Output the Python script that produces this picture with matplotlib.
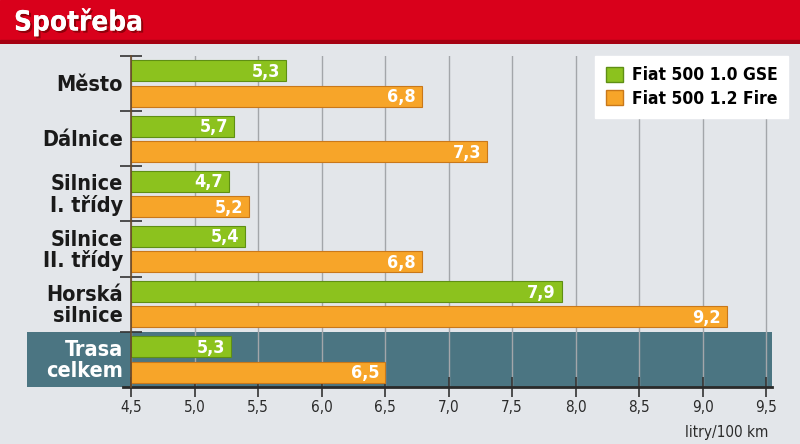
import matplotlib
matplotlib.use("Agg")
import matplotlib.pyplot as plt
from matplotlib.patches import Rectangle
import matplotlib.transforms as mtransforms
import matplotlib.patheffects as pe

categories = ["Město", "Dálnice", "Silnice\nI. třídy", "Silnice\nII. třídy", "Horská\nsilnice", "Trasa\ncelkem"]
# bar lengths as drawn in the reference picture
gse = [5.72, 5.31, 5.27, 5.40, 7.89, 5.29]
fire = [6.79, 7.30, 5.43, 6.79, 9.19, 6.50]
# value labels as printed in the reference picture
gse_labels = ["5,3", "5,7", "4,7", "5,4", "7,9", "5,3"]
fire_labels = ["6,8", "7,3", "5,2", "6,8", "9,2", "6,5"]
series_names = ["Fiat 500 1.0 GSE", "Fiat 500 1.2 Fire"]
xticks = [4.5, 5.0, 5.5, 6.0, 6.5, 7.0, 7.5, 8.0, 8.5, 9.0, 9.5]
xlabels = ["4,5", "5,0", "5,5", "6,0", "6,5", "7,0", "7,5", "8,0", "8,5", "9,0", "9,5"]

FONT = "DejaVu Sans"
STRETCH = "condensed"
GREEN = "#8cc21e"
GREEN_E = "#5f8f14"
ORANGE = "#f7a529"
ORANGE_E = "#c9781a"
BG = "#e3e6ea"
BAND = "#4b7582"

fig = plt.figure(figsize=(8, 4.44), dpi=100, facecolor=BG)

# header
hdr = fig.add_axes([0, 1 - 44 / 444, 1, 44 / 444])
hdr.set_xlim(0, 1); hdr.set_ylim(0, 1); hdr.axis("off")
hdr.add_patch(Rectangle((0, 0), 1, 1, color="#d9001b", transform=hdr.transAxes))
hdr.add_patch(Rectangle((0, 0), 1, 0.08, color="#a50012", transform=hdr.transAxes))
hdr.text(14 / 800, 0.50, "Spotřeba", color="white", fontsize=20, fontweight="bold",
         family=FONT, fontstretch=STRETCH, va="center", ha="left",
         path_effects=[pe.withSimplePatchShadow(offset=(1.5, -1.5), shadow_rgbFace="#600000", alpha=0.6), pe.Normal()])

left = 131 / 800
right = 772 / 800
bottom = 1 - 387 / 444
top = 1 - 56 / 444
ax = fig.add_axes([left, bottom, right - left, top - bottom])
ax.set_facecolor(BG)
xmax = 4.5 + (772 - 131) / 127.0
ax.set_xlim(4.5, xmax)
ax.set_ylim(len(categories), 0)

# highlight band for last category
trans = mtransforms.blended_transform_factory(ax.transAxes, ax.transData)
x0 = (27 - 131) / (772 - 131)
ax.add_patch(Rectangle((x0, len(categories) - 1), 1 - x0, 1, transform=trans,
                       facecolor=BAND, edgecolor="none", clip_on=False, zorder=0.5))

ax.set_axisbelow(True)
ax.xaxis.grid(True, color="#a3a6aa", linewidth=1.0, zorder=1)
ax.yaxis.grid(False)

ys = list(range(len(categories)))
h = 0.38
yg = [y + 0.27 for y in ys]
yo = [y + 0.73 for y in ys]
ax.barh(yg, [v - 4.5 for v in gse], left=4.5, height=h, color=GREEN, edgecolor=GREEN_E, linewidth=0.8, zorder=3)
ax.barh(yo, [v - 4.5 for v in fire], left=4.5, height=h, color=ORANGE, edgecolor=ORANGE_E, linewidth=0.8, zorder=3)

for y, v, s in zip(yg, gse, gse_labels):
    ax.text(v - 0.045, y + 0.02, s, color="white", fontsize=13, fontweight="bold",
            family=FONT, fontstretch=STRETCH, ha="right", va="center", zorder=4)
for y, v, s in zip(yo, fire, fire_labels):
    ax.text(v - 0.045, y + 0.02, s, color="white", fontsize=13, fontweight="bold",
            family=FONT, fontstretch=STRETCH, ha="right", va="center", zorder=4)

for i, c in enumerate(categories):
    col = "white" if i == len(categories) - 1 else "#1a1a1a"
    ax.text(-8 / 641, i + 0.52, c, transform=trans, ha="right", va="center", fontsize=15.5,
            fontweight="bold", family=FONT, fontstretch=STRETCH, color=col, linespacing=1.02, zorder=4)

ax.set_xticks(xticks)
ax.set_xticklabels(xlabels, family=FONT, fontstretch=STRETCH, fontsize=11, color="#2a2a2a")
ax.set_yticks(ys)
ax.set_yticklabels([])
ax.tick_params(axis="x", direction="inout", length=14, width=1.2, color="#333333", pad=2)
ax.tick_params(axis="y", direction="inout", length=16, width=1.2, color="#333333")
for s in ["top", "right"]:
    ax.spines[s].set_visible(False)
ax.spines["left"].set_color("#6a4a2a")
ax.spines["left"].set_linewidth(1.2)
ax.spines["left"].set_zorder(5)
ax.spines["bottom"].set_color("#2a2a2a")
ax.spines["bottom"].set_linewidth(2)
ax.spines["bottom"].set_bounds(4.5 - 8 / 127, xmax)

fig.text(768 / 800, 1 - 432 / 444, "litry/100 km", ha="right", va="center", fontsize=11,
         family=FONT, fontstretch=STRETCH, color="#2a2a2a")

# legend
leg = ax.legend(handles=[Rectangle((0, 0), 1, 1, facecolor=GREEN, edgecolor=GREEN_E),
                         Rectangle((0, 0), 1, 1, facecolor=ORANGE, edgecolor=ORANGE_E)],
                labels=series_names, loc="upper right", bbox_to_anchor=((788 - 131) / 641, 1.0),
                frameon=True, fancybox=False, framealpha=1, edgecolor="white", facecolor="white",
                prop={"family": FONT, "weight": "bold", "size": 12.5, "stretch": STRETCH},
                handlelength=1.0, handleheight=1.0,
                handletextpad=0.5, labelspacing=0.3, borderpad=0.6, borderaxespad=0)
leg.set_zorder(6)

fig.savefig("out.png", dpi=100, facecolor=BG)
